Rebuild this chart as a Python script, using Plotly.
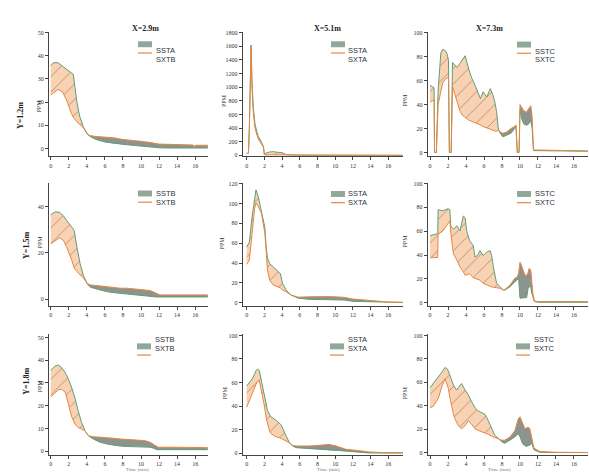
import plotly.graph_objects as go

# ---------------- data ----------------
COL_TITLES = ["X=2.9m", "X=5.1m", "X=7.3m"]
ROW_TITLES = ["Y=1.2m", "Y=1.5m", "Y=1.8m"]
LEGEND_NAMES = [[("SSTA", "SXTB"), ("SSTA", "SXTA"), ("SSTC", "SXTC")],
                [("SSTB", "SXTB"), ("SSTA", "SXTA"), ("SSTC", "SXTC")],
                [("SSTB", "SXTB"), ("SSTA", "SXTA"), ("SSTC", "SXTC")]]
X_TICKS = [0, 2, 4, 6, 8, 10, 12, 14, 16]
Y_LABEL = "PPM"
X_LABEL = "Time (min)"

X_11 = [0, 0.3, 0.8, 1.3, 1.8, 2.3, 2.5, 2.9, 3.2, 3.6, 4.0, 4.3, 5, 6, 7, 8, 9, 10, 11, 12, 13, 14, 15, 15.8, 15.9, 16, 17, 17.4]
SST_11 = [35.8, 37, 37, 35.5, 34, 32.8, 32, 20, 14, 9.5, 6.5, 5.3, 3.9, 2.8, 2.2, 1.8, 1.4, 1.0, 0.6, 0.3, 0.2, 0.2, 0.2, 0.2, 0.2, 0.2, 0.2, 0.2]
SXT_11 = [23, 24, 25.5, 24.5, 20.5, 15, 13.5, 11.5, 10.5, 9, 6.8, 5.6, 5.2, 4.9, 4.6, 3.9, 3.6, 3.1, 2.6, 1.9, 1.8, 1.7, 1.6, 1.5, 0.3, 1.4, 1.4, 1.4]

X_12 = [0, 0.2, 0.3, 0.4, 0.5, 0.6, 0.75, 0.95, 1.3, 1.65, 1.9, 2.0, 2.2, 2.6, 3.0, 3.5, 4.0, 4.5, 5, 6, 8, 10, 12, 14, 16, 17.6]
SST_12 = [30, 33, 400, 950, 1620, 1100, 700, 450, 280, 200, 130, 8, 35, 50, 55, 45, 40, 10, 5, 4, 3, 3, 2, 2, 1, 1]
SXT_12 = [30, 30, 370, 880, 1600, 1000, 620, 390, 240, 170, 115, 10, 5, 8, 10, 10, 12, 8, 5, 4, 3, 3, 2, 2, 1, 1]

X_13 = [0, 0.45, 0.5, 0.7, 0.9, 1.2, 1.4, 1.7, 1.9, 2.05, 2.15, 2.35, 2.5, 2.8, 3.0, 3.3, 3.6, 3.9, 4.3, 4.6, 5.0, 5.4, 5.6, 5.9, 6.3, 6.7, 7.0, 7.2, 7.4, 7.6, 7.8, 8.1, 8.5, 9.0, 9.4, 9.55, 9.7, 9.9, 10.0, 10.2, 10.4, 10.7, 11.0, 11.2, 11.35, 11.5, 12, 14, 16, 17.6]
SST_13 = [56, 54, 0, 0, 52, 83, 86, 85, 82, 77, 0, 0, 75, 72, 71, 74, 77, 80.7, 69.6, 62.8, 56, 47.7, 45, 50.6, 46.3, 53.3, 47.7, 42, 34, 19, 16, 13, 14.3, 16, 20, 22, 0, 0, 35, 28, 24, 22.6, 24, 26.8, 20, 1.5, 1.5, 1.2, 1.0, 1.0]
SXT_13 = [42, 44, 0, 0, 40, 52, 58, 61, 62, 63, 0, 0, 55, 48, 42, 35, 31, 29, 27, 26, 25, 24, 23, 21.6, 20.5, 19, 18.5, 18, 17.4, 19, 17, 16, 17, 20, 21.6, 23, 0, 0, 40, 37.5, 35, 33.6, 36.4, 39, 30, 2, 2, 1.5, 1.2, 1.2]

X_21 = [0, 0.5, 1.0, 1.4, 1.77, 2.33, 2.6, 2.9, 3.25, 3.6, 4.06, 4.4, 5.45, 6.2, 6.9, 7.7, 8.4, 9.1, 9.9, 10.6, 11.0, 11.7, 12.1, 13.6, 15, 17.4]
SST_21 = [36.5, 37.8, 37.5, 36.1, 34, 31.1, 29.8, 22.6, 15.5, 10.5, 6.6, 5.2, 4.0, 3.3, 2.9, 2.6, 2.3, 1.9, 1.5, 1.2, 1.1, 1.0, 1.0, 1.0, 1.0, 1.0]
SXT_21 = [24.0, 25.4, 26.6, 25.5, 22.5, 16.9, 13.5, 12.0, 10.5, 9.3, 6.8, 6.2, 5.8, 5.4, 5.2, 4.8, 4.8, 4.6, 4.4, 4.1, 3.8, 2.6, 1.9, 1.9, 1.9, 1.9]

X_22 = [0, 0.3, 0.6, 0.9, 1.05, 1.3, 1.67, 2.05, 2.2, 2.35, 2.6, 3.0, 3.5, 3.8, 4.05, 4.45, 5.0, 5.8, 7, 8, 9, 10, 11, 12, 13, 14, 15, 16, 17.7]
SST_22 = [56, 61, 86, 105.5, 113.7, 107, 92, 76, 56, 45, 39.4, 36, 32.7, 29.5, 19.5, 12.9, 7.9, 4.7, 3.5, 3.2, 3.0, 3.0, 2.8, 1.5, 1.2, 1.0, 0.6, 0.4, 0.3]
SXT_22 = [38.7, 42.7, 69, 95, 100.5, 97, 90, 70, 52, 33, 22.8, 17.9, 16.2, 15, 12.9, 11.2, 7.9, 5.7, 6.0, 6.3, 6.3, 6.0, 5.5, 3.8, 3.0, 2.5, 1.5, 0.8, 0.5]

X_23 = [0, 0.85, 0.9, 0.95, 1.4, 2.0, 2.2, 2.3, 2.6, 3.0, 3.33, 3.7, 3.9, 4.07, 4.4, 4.8, 5.0, 5.26, 5.56, 5.9, 6.3, 6.67, 6.85, 7.04, 7.4, 7.8, 8.15, 8.33, 8.9, 9.26, 9.4, 9.7, 9.85, 10.0, 10.1, 10.37, 10.55, 10.74, 10.9, 11.0, 11.2, 11.3, 11.5, 11.6, 12, 14, 16, 17.6]
SST_23 = [56.2, 58, 78, 78, 77, 78.8, 78, 64.5, 61.7, 64.5, 60.3, 72.7, 71.3, 60.3, 52, 48, 38.3, 39.6, 43.8, 39.6, 42.4, 43.8, 39.6, 30, 16.3, 13.5, 10.7, 10.7, 13.5, 16.5, 17.6, 19.5, 20.4, 3.9, 3.9, 3.9, 3.9, 4.4, 12, 13.5, 13.5, 8, 5.5, 1.1, 0.5, 0.5, 0.5, 0.5]
SXT_23 = [37.7, 38, 57.6, 57.6, 60, 66, 68.6, 59, 41, 35.5, 30, 26, 23, 23.5, 24.4, 21, 20.4, 19.8, 19, 16.3, 15, 13.5, 13.3, 13.1, 12.7, 12.1, 10.7, 11.2, 14.9, 19, 20.4, 21.8, 25, 34, 32.6, 27, 23, 23, 25, 28.7, 27.3, 19, 2.5, 1.5, 1.0, 1.0, 1.0, 1.0]

X_31 = [0, 0.5, 0.85, 1.2, 1.6, 1.95, 2.3, 2.7, 3.06, 3.43, 3.8, 4.17, 4.7, 5.45, 6.2, 7.0, 7.7, 8.4, 9.1, 9.9, 10.4, 11.0, 11.5, 11.7, 11.9, 13.6, 15.5, 17.4]
SST_31 = [35.5, 37.5, 37.9, 36.8, 34.6, 31.8, 28.2, 23.2, 17.5, 12.5, 9.0, 6.8, 5.4, 4.0, 3.2, 2.6, 2.3, 2.1, 2.1, 2.1, 2.0, 1.8, 1.2, 0.7, 0.7, 0.7, 0.7, 0.7]
SXT_31 = [23.9, 26, 27, 27.2, 26, 21, 15.4, 11.8, 10.4, 9.7, 9.0, 6.9, 6.4, 6.2, 6.1, 5.7, 5.4, 5.2, 5.0, 4.8, 4.7, 4.0, 2.6, 2.2, 1.8, 1.8, 1.7, 1.6]

X_32 = [0, 0.3, 0.7, 1.05, 1.24, 1.43, 1.6, 1.9, 2.0, 2.25, 2.35, 2.6, 2.75, 3.2, 3.3, 3.75, 3.9, 4.3, 4.6, 4.85, 5.2, 5.6, 7.1, 8.6, 9.3, 10.1, 11.2, 12.3, 13.8, 15.3, 17.7]
SST_32 = [57, 59.8, 63.9, 70, 71.6, 70, 63.9, 54, 50.1, 40, 36.4, 32.5, 30.9, 28.5, 28.1, 25, 24, 17.1, 11.6, 8.5, 6.1, 4.7, 3.9, 3.3, 3.0, 2.8, 1.9, 1.1, 0.2, 0.1, 0.1]
SXT_32 = [39, 44.6, 53, 58.4, 61, 61.5, 55, 44.6, 40, 28.1, 25, 18.4, 16.5, 14.3, 14, 13, 12.5, 11, 9.8, 8.8, 6.6, 6.1, 6.1, 6.6, 7.4, 6.1, 3.3, 2.5, 1.1, 0.5, 0.5]

X_33 = [0, 0.37, 0.93, 1.3, 1.67, 1.93, 2.04, 2.2, 2.4, 2.6, 2.78, 2.96, 3.15, 3.33, 3.5, 3.9, 4.26, 4.6, 5.0, 5.37, 5.7, 5.9, 6.1, 6.48, 6.85, 7.0, 7.2, 7.6, 7.96, 8.3, 8.9, 9.44, 9.8, 10.0, 10.3, 10.55, 10.7, 10.9, 11.1, 11.3, 11.55, 12.2, 14, 17.6]
SST_33 = [55.4, 59, 64.5, 68.6, 72.7, 71.3, 69.5, 65.9, 61.5, 57.6, 55.5, 53.4, 55.5, 57.6, 59, 53.4, 49.3, 43.8, 38.3, 35.5, 34.2, 33.5, 32.8, 27.3, 20.4, 18, 14.9, 12.1, 9.4, 8, 10.7, 13.5, 16.3, 13.5, 7.5, 5.8, 5.2, 6, 6.6, 8, 2.5, 0.3, 0.1, 0.1]
SXT_33 = [38.3, 39.7, 46.5, 56.2, 63.1, 58, 54.8, 47, 38.3, 33, 28.7, 25.8, 23.1, 21.5, 20.4, 23.1, 27.3, 24.4, 20.4, 19, 18, 17.6, 17, 15.7, 14, 13.5, 13, 12.1, 10.7, 10.7, 13.5, 19, 28.7, 30.6, 24.5, 20.4, 21, 21.8, 20.4, 13.5, 3.9, 1.1, 0.3, 0.2]

PANELS = [[(X_11, SST_11, SXT_11), (X_12, SST_12, SXT_12), (X_13, SST_13, SXT_13)],
          [(X_21, SST_21, SXT_21), (X_22, SST_22, SXT_22), (X_23, SST_23, SXT_23)],
          [(X_31, SST_31, SXT_31), (X_32, SST_32, SXT_32), (X_33, SST_33, SXT_33)]]

# ---------------- layout / style ----------------
W, H = 589, 476
COL_PX = [(49, 208), (242.7, 403), (427.7, 588)]
ROW_PX = [(29, 155), (182, 306), (335, 456.5)]
XR = [(-0.19, 17.42), (-0.45, 17.66), (-0.26, 17.56)]
YR = [[(-3.4, 50.4), (-14.5, 1815), (-3.3, 100.8)],
      [(-2.8, 50.2), (-3, 120.5), (-2.5, 100.3)],
      [(-1.5, 51.3), (-1.3, 100.8), (-1.7, 100.8)]]
DT = [[10, 200, 20], [20, 20, 20], [10, 20, 20]]

PEACH = "#f8d2b3"
GRAY = "#8d938f"
GREEN = "#5f9e74"
ORANGE = "#e8863e"
HATCH = "#5b3322"
AXC = "#444444"
SERIF = "Liberation Serif"
SANS = "Liberation Sans"


def px(x):
    return x / W


def py(y):
    return 1 - y / H


fig = go.Figure()
layout = dict(width=W, height=H, autosize=False, margin=dict(l=0, r=0, t=0, b=0),
              paper_bgcolor="white", plot_bgcolor="white", showlegend=False)
annotations = []
shapes = []

for r in range(3):
    for c in range(3):
        k = r * 3 + c + 1
        xa = "x" if k == 1 else f"x{k}"
        ya = "y" if k == 1 else f"y{k}"
        xs, sst, sxt = PANELS[r][c]
        low = [min(a, b) for a, b in zip(sst, sxt)]
        common = dict(xaxis=xa, yaxis=ya, hoverinfo="skip", showlegend=False)
        base = dict(mode="lines", line=dict(width=0, color="rgba(0,0,0,0)"))
        # band where SST is above SXT (peach, hatched)
        fig.add_trace(go.Scatter(x=xs, y=low, **base, **common))
        fig.add_trace(go.Scatter(x=xs, y=sst, fill="tonexty", fillcolor=PEACH,
                                 fillpattern=dict(shape="/", bgcolor=PEACH, fgcolor=HATCH,
                                                  size=11, solidity=0.07), **base, **common))
        # band where SXT is above SST (gray)
        fig.add_trace(go.Scatter(x=xs, y=low, **base, **common))
        fig.add_trace(go.Scatter(x=xs, y=sxt, fill="tonexty", fillcolor=GRAY, **base, **common))
        fig.add_trace(go.Scatter(x=xs, y=sst, mode="lines", line=dict(color=GREEN, width=1), **common))
        fig.add_trace(go.Scatter(x=xs, y=sxt, mode="lines", line=dict(color=ORANGE, width=1), **common))

        axis_common = dict(showline=True, linecolor=AXC, linewidth=1, ticks="outside", ticklen=3,
                           tickcolor=AXC, tickwidth=1, showgrid=False, zeroline=False,
                           tickfont=dict(family=SERIF, size=6, color="#333333"))
        layout["xaxis" if k == 1 else f"xaxis{k}"] = dict(
            domain=[px(COL_PX[c][0]), px(COL_PX[c][1])], range=list(XR[c]), anchor=ya,
            tickmode="array", tickvals=X_TICKS, ticktext=[str(t) for t in X_TICKS], **axis_common)
        layout["yaxis" if k == 1 else f"yaxis{k}"] = dict(
            domain=[py(ROW_PX[r][1]), py(ROW_PX[r][0])], range=list(YR[r][c]), anchor=xa,
            tick0=0, dtick=DT[r][c], **axis_common)

# column titles
for t, xc in zip(COL_TITLES, [130, 327, 505]):
    annotations.append(dict(text=f"<b>{t}</b>", x=px(xc), y=py(19), xref="paper", yref="paper",
                            showarrow=False, font=dict(family=SERIF, size=8, color="#222")))
# row titles
for t, xc, yc in zip(ROW_TITLES, [14, 20, 20], [98, 245, 398]):
    annotations.append(dict(text=f"<b>{t}</b>", x=px(xc), y=py(yc), xref="paper", yref="paper",
                            showarrow=False, textangle=-90, font=dict(family=SERIF, size=8, color="#222")))
# y axis labels
PPM_POS = [[(34, 96), (223.5, 90), (410, 90)],
           [(35, 242), (222, 243), (410, 241)],
           [(35, 396), (225, 403), (410, 403)]]
for r in range(3):
    for c in range(3):
        xc, yc = PPM_POS[r][c]
        annotations.append(dict(text=Y_LABEL, x=px(xc), y=py(yc), xref="paper", yref="paper",
                                showarrow=False, textangle=-90,
                                font=dict(family=SERIF, size=6, color="#333")))
# bottom x labels
for xc in [124, 328, 513]:
    annotations.append(dict(text=X_LABEL, x=px(xc), y=py(476.5), xref="paper", yref="paper",
                            yanchor="bottom", showarrow=False,
                            font=dict(family=SERIF, size=5, color="#777")))

# legends
LEG_POS = [[(138, 41.7), (331, 41.7), (517, 42)],
           [(138, 192.5), (331, 193), (517, 193)],
           [(137, 347), (330, 347), (516, 347)]]
for r in range(3):
    for c in range(3):
        lx, ly = LEG_POS[r][c]
        n1, n2 = LEGEND_NAMES[r][c]
        shapes.append(dict(type="rect", xref="paper", yref="paper", x0=px(lx), x1=px(lx + 14),
                           y0=py(ly + 3), y1=py(ly - 3), fillcolor="#8fa898", line=dict(width=0)))
        shapes.append(dict(type="line", xref="paper", yref="paper", x0=px(lx), x1=px(lx + 14),
                           y0=py(ly + 8.8), y1=py(ly + 8.8), line=dict(color=ORANGE, width=1.2)))
        annotations.append(dict(text=n1, x=px(lx + 15.5), y=py(ly), xref="paper", yref="paper",
                                xanchor="left", showarrow=False,
                                font=dict(family=SANS, size=7.5, color="#333")))
        annotations.append(dict(text=n2, x=px(lx + 15.5), y=py(ly + 8.8), xref="paper", yref="paper",
                                xanchor="left", showarrow=False,
                                font=dict(family=SANS, size=7.5, color="#333")))

layout["annotations"] = annotations
layout["shapes"] = shapes
fig.update_layout(**layout)
fig.write_html("out.html")
